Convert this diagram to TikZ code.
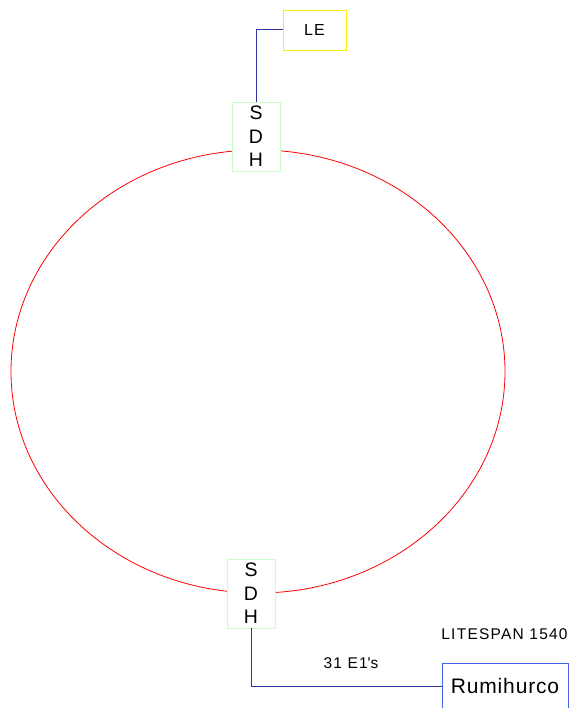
\documentclass[tikz,border=0pt]{standalone}
\usepackage{fontspec}
\setmainfont{Liberation Sans}
\newfontfamily\widefont[LetterSpace=8]{Liberation Sans}
\newfontfamily\sitefont[LetterSpace=4]{Liberation Sans}
\usetikzlibrary{positioning}
\definecolor{ringred}{RGB}{255,0,0}
\definecolor{leyellow}{RGB}{255,240,0}
\definecolor{sdhgreen}{RGB}{200,255,200}
\definecolor{linkblue}{RGB}{50,50,160}
\definecolor{siteblue}{RGB}{70,100,230}

\begin{document}
\begin{tikzpicture}[x=1pt, y=-1pt,
    box/.style={draw, fill=white, inner sep=0pt, line width=0.8pt},
    sdhbox/.style={box, draw=sdhgreen, minimum width=48pt, minimum height=69pt,
      align=center, font=\fontsize{19.5}{23.5}\selectfont},
    link/.style={draw=linkblue, line width=1pt},
    tag/.style={inner sep=0pt, font=\widefont\fontsize{15.5}{18}\selectfont}]
   \useasboundingbox (0,0) rectangle (570,708);
   % ring
   \draw[ringred, line width=0.8pt] (258,371.5) ellipse [x radius=247, y radius=221.5];
   % nodes
   \node[box, draw=leyellow, minimum width=63pt, minimum height=40pt,
     font=\widefont\fontsize{16}{19}\selectfont] (le) at (314.5,30) {LE};
   \node[sdhbox] (sdh_top) at (256,136.5) {S\\D\\H};
   \node[sdhbox] (sdh_bot) at (251,593.5) {S\\D\\H};
   \node[box, draw=siteblue, minimum width=126pt, minimum height=46pt,
     font=\sitefont\fontsize{21}{24}\selectfont] (rumi) at (505,686) {Rumihurco};
   \node[tag] (litespan) at (504.5,634) {LITESPAN 1540};
   \node[tag] (e1s) at (351,663) {31 E1\textquotesingle s};
   % links
   \draw[link] (sdh_top.north) |- (le.west);
   \draw[link] (sdh_bot.south) |- (rumi.west);
\end{tikzpicture}
\end{document}
